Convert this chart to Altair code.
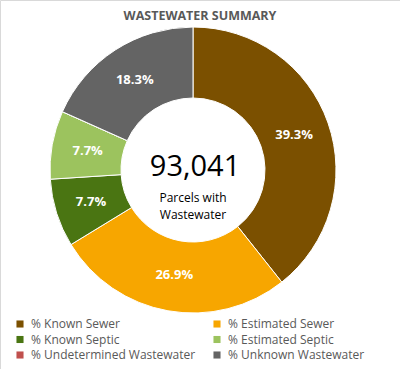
import altair as alt
import pandas as pd

categories = ["% Known Sewer", "% Estimated Sewer", "% Known Septic",
              "% Estimated Septic", "% Undetermined Wastewater", "% Unknown Wastewater"]
values = [39.3, 26.9, 7.7, 7.7, 0.0, 18.3]
labels = ["39.3%", "26.9%", "7.7%", "7.7%", "", "18.3%"]
colors = ["#7B5000", "#F7A600", "#4A7512", "#9CC35E", "#C0504D", "#646464"]
total_text = "93,041"
center_text = "Parcels with\nWastewater"
title_text = "WASTEWATER SUMMARY"

df = pd.DataFrame({"cat": categories, "val": values, "lab": labels,
                   "ord": list(range(len(categories)))})

FONT = "Open Sans"
CX, CY = 193, 170

base = alt.Chart(df).encode(
    theta=alt.Theta("val:Q", stack=True),
    order=alt.Order("ord:Q"),
    x=alt.value(CX), y=alt.value(CY),
)

arcs = base.mark_arc(outerRadius=143, innerRadius=72, stroke="white", strokeWidth=1).encode(
    color=alt.Color("cat:N", sort=categories,
                    scale=alt.Scale(domain=categories, range=colors),
                    legend=alt.Legend(title=None, orient="none", legendX=14, legendY=318,
                                      direction="horizontal", columns=2,
                                      columnPadding=15, rowPadding=3.5,
                                      symbolType="square", symbolSize=50, symbolStrokeWidth=0,
                                      labelFont=FONT, labelFontSize=12, labelColor="#595959",
                                      labelLimit=300, symbolOffset=0, labelOffset=5))
)

lbls = base.transform_filter("datum.val > 0").mark_text(
    radius=107, font=FONT, fontSize=13, fontWeight="bold", color="white"
).encode(text="lab:N")

tdf = pd.DataFrame({"t": [title_text]})
title = alt.Chart(tdf).mark_text(font=FONT, fontSize=12.5, fontWeight="bold",
                                 color="#595959", baseline="middle").encode(
    text="t:N", x=alt.value(200), y=alt.value(16))

ndf = pd.DataFrame({"t": [total_text]})
num = alt.Chart(ndf).mark_text(font=FONT, fontSize=29, color="#000000",
                               baseline="alphabetic").encode(
    text="t:N", x=alt.value(195), y=alt.value(176))

cdf = pd.DataFrame({"t": [center_text]})
sub = alt.Chart(cdf).mark_text(font=FONT, fontSize=12, color="#000000",
                               baseline="alphabetic", lineBreak="\n", lineHeight=17).encode(
    text="t:N", x=alt.value(193), y=alt.value(202))

chart = alt.layer(arcs, lbls, title, num, sub).properties(
    width=400, height=369, padding=0,
    autosize=alt.AutoSizeParams(type="none"),
    background="white",
).configure_view(stroke="#D9D9D9", strokeWidth=1)

chart.save("out.html", embed_options={"renderer": "svg", "actions": False})
